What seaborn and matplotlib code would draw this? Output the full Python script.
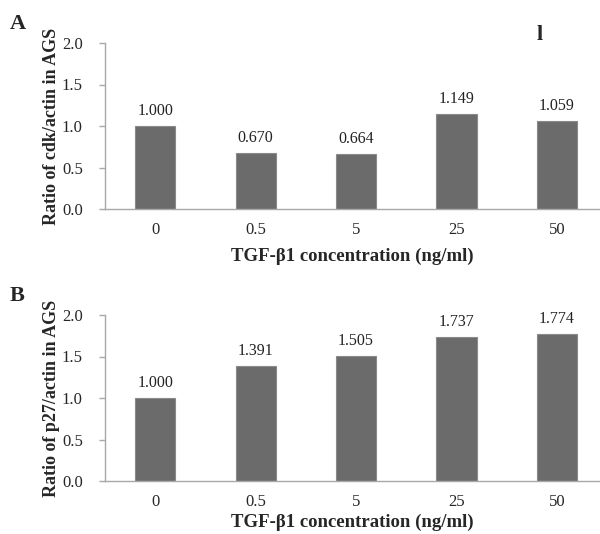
import matplotlib
matplotlib.use("Agg")
import matplotlib.pyplot as plt
import pandas as pd
import seaborn as sns

# dados
concentracoes = ['0', '0.5', '5', '25', '50']
ratio_cdk = [1.000, 0.670, 0.664, 1.149, 1.059]
ratio_p27 = [1.000, 1.391, 1.505, 1.737, 1.774]
rotulos_y = ['Ratio of cdk/actin in AGS', 'Ratio of p27/actin in AGS']
letras = ['A', 'B']

sns.set_style("white")
plt.rcParams['font.family'] = ['Liberation Serif', 'DejaVu Serif']

W, H = 600, 534
fig = plt.figure(figsize=(W / 100, H / 100), dpi=100)

# (topo, base) de cada eixo em pixels
paineis = [(43, 209), (315, 481)]
pads_x = [7, 3]
cor_eixo = '#a8a8a8'

for i, valores in enumerate([ratio_cdk, ratio_p27]):
    topo, base = paineis[i]
    ax = fig.add_axes([105 / W, 1 - base / H, 495 / W, (base - topo) / H])
    df = pd.DataFrame({'conc': concentracoes, 'ratio': valores})
    sns.barplot(data=df, x='conc', y='ratio', color='#6b6b6b', width=0.4,
                edgecolor='#8a8a8a', linewidth=0.8, saturation=1, ax=ax)
    ax.bar_label(ax.containers[0], fmt='%.3f', padding=5, fontsize=11.5, color='#222222')

    ax.set_ylim(0, 2.0)
    ax.set_xlim(-0.5, 4.43)
    ax.set_yticks([0, 0.5, 1.0, 1.5, 2.0])
    ax.set_yticklabels(['0.0', '0.5', '1.0', '1.5', '2.0'], fontsize=12)
    ax.set_xticks([0, 1, 2, 3, 4])
    ax.set_xticklabels(concentracoes, fontsize=12)
    ax.set_xticks([-0.5, 0.5, 1.5, 2.5, 3.5], minor=True)
    ax.tick_params(axis='x', which='major', length=0, pad=9)
    ax.tick_params(axis='x', which='minor', length=4, color=cor_eixo, width=1, direction='out')
    ax.tick_params(axis='y', length=4, color=cor_eixo, width=1, direction='out', pad=12, left=True)

    sns.despine(ax=ax, top=True, right=True)
    for lado in ['left', 'bottom']:
        ax.spines[lado].set_color(cor_eixo)
        ax.spines[lado].set_linewidth(1)

    ax.set_ylabel(rotulos_y[i], fontsize=13, fontweight='bold', labelpad=1)
    ax.set_xlabel('TGF-β1 concentration (ng/ml)', fontsize=13.5, fontweight='bold', labelpad=pads_x[i])

    fig.text(10 / W, 1 - (topo - 19) / H, letras[i], fontsize=16, fontweight='bold',
             va='center', ha='left')

# marca solta no painel A
fig.text(540 / W, 1 - 35 / H, 'l', fontsize=16, fontweight='bold', va='center', ha='center')

fig.savefig('out.png', dpi=100)
